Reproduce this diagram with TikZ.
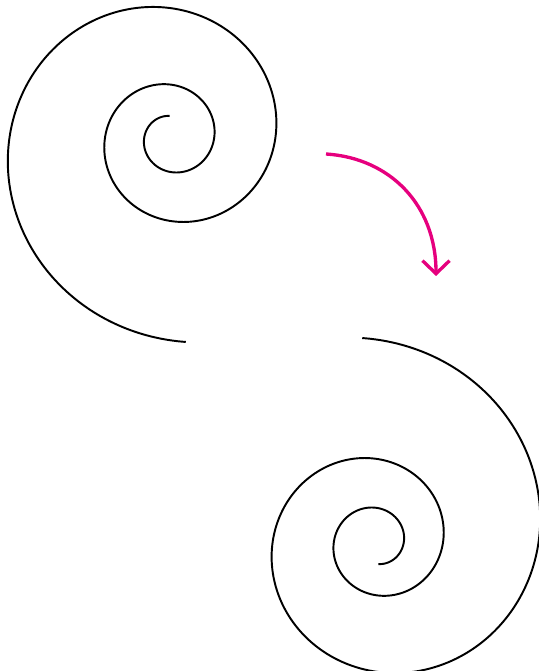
\documentclass[tikz,border=0pt]{standalone}
\usetikzlibrary{arrows.meta}
\definecolor{rose}{RGB}{230,0,126}

\begin{document}
\begin{tikzpicture}[x=0.02cm, y=-0.02cm,
  coil/.style={black, line width=1.1pt},
  turn/.style={rose, line width=1.9pt, -{Straight Barb[length=2.6mm, width=5.4mm]}}]

\def\a{17.52}
\def\k{0.0024794}

\useasboundingbox (0,0) rectangle (538,671);

% upper spiral
\draw[coil, smooth, domain=95:994, samples=400]
  plot ({171.5+\a*exp(\k*\x)*cos(\x)}, {138-\a*exp(\k*\x)*sin(\x)});

% lower spiral, turned half a turn
\draw[coil, smooth, domain=95:994, samples=400]
  plot ({376.5-\a*exp(\k*\x)*cos(\x)}, {542+\a*exp(\k*\x)*sin(\x)});

\coordinate (from) at (326,154);
\coordinate (to) at (436,276);

\draw[turn] (from) .. controls (390,158) and (436,205) .. (to);

\end{tikzpicture}
\end{document}
